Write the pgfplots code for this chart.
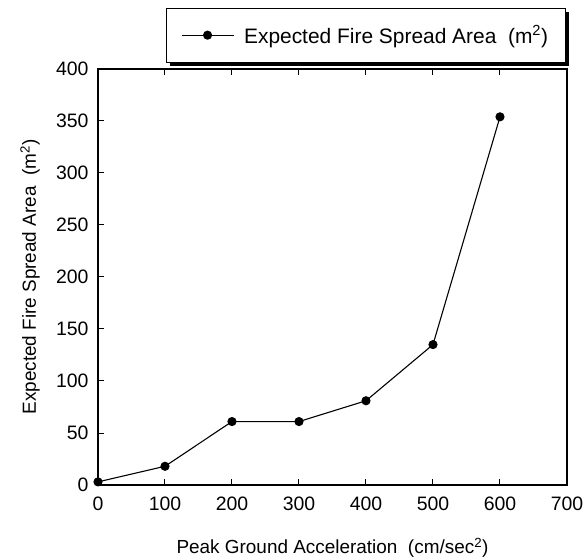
\documentclass[border=0pt]{standalone}
\usepackage{pgfplots}
\pgfplotsset{compat=1.18}
\usepackage{fontspec}
\setmainfont{Liberation Sans}
\usetikzlibrary{calc}

\begin{document}
\begin{tikzpicture}
  \begin{axis}[
    name=ax,
    scale only axis,
    width=469bp,
    height=416bp,
    xmin=0, xmax=700,
    ymin=0, ymax=400,
    xtick={0,100,...,700},
    ytick={0,50,...,400},
    xtick pos=both,
    ytick pos=left,
    tick align=inside,
    major tick length=6bp,
    axis line style={line width=1.2bp},
    tick style={line width=1bp, black},
    /pgf/number format/assume math mode=true,
    tick label style={font=\fontsize{19.5}{22}\selectfont},
    xticklabel style={yshift=-8bp},
    yticklabel style={xshift=-6bp},
    label style={font=\fontsize{19}{22}\selectfont},
    xlabel={Peak Ground Acceleration\ \ (cm/sec\textsuperscript{2})},
    ylabel={Expected Fire Spread Area\ \ (m\textsuperscript{2})},
    xlabel style={at={(axis description cs:0.5,-0.151)}, anchor=center},
    ylabel style={at={(axis description cs:-0.145,0.5)}, anchor=center},
    legend style={
      name=leg,
      at={(0.997,1.015)}, anchor=south east,
      font=\fontsize{21}{24}\selectfont,
      draw=black, line width=1bp, fill=white,
      inner xsep=15bp, inner ysep=15.5bp,
      column sep=8bp,
    },
    legend image code/.code={
      \draw[mark repeat=2, mark phase=2, #1]
        plot coordinates {(0bp,0bp) (26bp,0bp) (52bp,0bp)};
    },
  ]
    \addplot[black, line width=1.1bp, mark=*, mark size=4bp,
             mark options={solid, fill=black}]
      coordinates {
        (0,3) (100,18) (200,61) (300,61) (400,81) (500,135) (600,354)
      };
    \addlegendentry{Expected Fire Spread Area\ \ (m\textsuperscript{2})}
  \end{axis}
  % heavy shadow on the right and bottom of the legend box
  \draw[line width=3.5bp, line cap=butt]
    ($(leg.south west)+(4bp,-1.75bp)$) -- ($(leg.south east)+(1.75bp,-1.75bp)$)
    -- ($(leg.north east)+(1.75bp,-4bp)$);
  \pgfresetboundingbox
  \path (ax.south west) ++(-98bp,-73bp) rectangle ++(588bp,558bp);
\end{tikzpicture}
\end{document}
